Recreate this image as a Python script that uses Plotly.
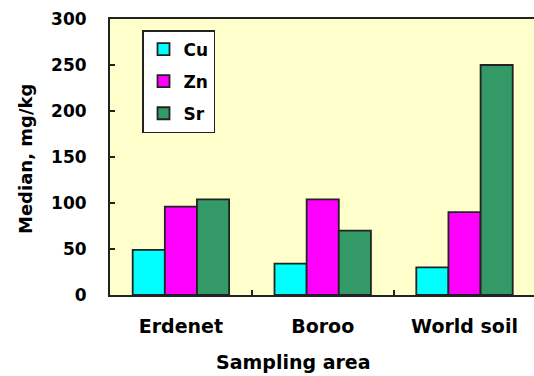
import plotly.graph_objects as go

categories = ["Erdenet", "Boroo", "World soil"]
cu = [49, 34, 30]
zn = [96, 104, 90]
sr = [104, 70, 250]
y_ticks = [0, 50, 100, 150, 200, 250, 300]

FONT = "DejaVu Sans"
LINE = "#222222"

L, T, PW, PH = 110, 19, 424, 276

fig = go.Figure()
for name, vals, col in [("Cu", cu, "#00FFFF"), ("Zn", zn, "#FF00FF"), ("Sr", sr, "#339966")]:
    fig.add_trace(go.Bar(
        x=categories, y=vals, name=name, legendgroup=name,
        marker=dict(color=col, line=dict(color=LINE, width=1.8)),
    ))

fig.update_layout(
    width=534, height=376,
    margin=dict(l=L, r=534 - L - PW, t=T, b=376 - T - PH, autoexpand=False),
    paper_bgcolor="white",
    plot_bgcolor="#FFFFCC",
    barmode="group",
    bargap=0.32,
    bargroupgap=0,
    font=dict(family=FONT, color="black"),
    showlegend=True,
    legend=dict(
        x=(142 - L) / PW, y=1 - (30 - T) / PH, xanchor="left", yanchor="top",
        bgcolor="white", bordercolor=LINE, borderwidth=1.5,
        font=dict(family=FONT, size=17, color="black", weight="bold"),
        traceorder="grouped", tracegroupgap=7,
        itemwidth=30,
    ),
    xaxis=dict(
        range=[-0.5, 2.49],
        showline=True, linecolor=LINE, linewidth=2, mirror=True,
        ticks="inside", tickson="boundaries", ticklen=5, tickwidth=2, tickcolor=LINE,
        tickfont=dict(family=FONT, size=19, weight="bold"),
        ticklabelstandoff=13,
        showgrid=False, zeroline=False,
    ),
    yaxis=dict(
        range=[0, 300],
        tickvals=y_ticks,
        showline=True, linecolor=LINE, linewidth=2,
        ticks="inside", ticklen=5, tickwidth=2, tickcolor=LINE,
        tickfont=dict(family=FONT, size=17, weight="bold"),
        ticklabelstandoff=18,
        showgrid=False, zeroline=False,
    ),
)

fig.add_annotation(
    text="Sampling area", xref="paper", yref="paper",
    x=(293 - L) / PW, y=-(362 - (T + PH)) / PH, xanchor="center", yanchor="middle",
    showarrow=False, font=dict(family=FONT, size=19, weight="bold"),
)
fig.add_annotation(
    text="Median, mg/kg", xref="paper", yref="paper",
    x=-(L - 25) / PW, y=(T + PH - 159) / PH, xanchor="center", yanchor="middle",
    textangle=-90, showarrow=False, font=dict(family=FONT, size=18, weight="bold"),
)

fig.write_html(
    "out.html",
    config={"displayModeBar": False},
    post_script="document.body.style.margin='0';document.body.style.overflow='hidden';",
)
